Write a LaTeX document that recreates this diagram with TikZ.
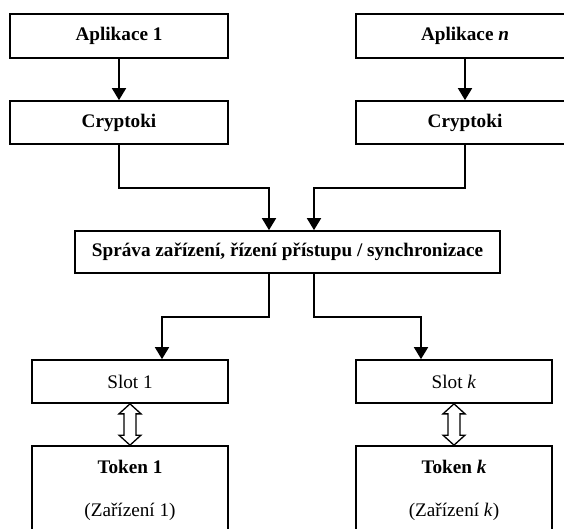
\documentclass[tikz,border=0pt]{standalone}
\usepackage{fontspec}
\setmainfont{Liberation Serif}
\usetikzlibrary{arrows.meta,calc}
\begin{document}
\begin{tikzpicture}[x=1pt,y=-1pt,
  box/.style={draw,line width=1.7pt,rectangle,inner sep=0pt,font=\fontsize{19.2}{22}\selectfont},
  hdr/.style={box,font=\fontsize{19.2}{22}\selectfont\bfseries},
  lbl/.style={inner sep=0pt,font=\fontsize{19.2}{22}\selectfont},
  arr/.style={line width=1.7pt,-{Triangle[length=12pt,width=14pt]}},
  dbl/.style={draw,line width=1.3pt,fill=white,line join=miter}]
\clip (0,0) rectangle (564,529);
\fill[white] (0,0) rectangle (564,529);
\node[hdr,minimum width=218,minimum height=44] (a1) at (119,36) {Aplikace 1};
\node[hdr,minimum width=218,minimum height=43] (c1) at (119,122.5) {Cryptoki};
\node[hdr,minimum width=218,minimum height=44] (an) at (465,36) {Aplikace \textit{n}};
\node[hdr,minimum width=218,minimum height=43] (cn) at (465,122.5) {Cryptoki};
\node[hdr,minimum width=425,minimum height=42] (sm) at (287.5,252) {Správa zařízení, řízení přístupu / synchronizace};
\node[box,minimum width=196,minimum height=43] (s1) at (130,381.5) {Slot 1};
\node[box,minimum width=196,minimum height=43] (sk) at (454,381.5) {Slot \textit{k}};
\node[box,minimum width=196,minimum height=100] (t1) at (130,496) {};
\node[box,minimum width=196,minimum height=100] (tk) at (454,496) {};
\node[lbl,font=\fontsize{19.2}{22}\selectfont\bfseries] (t1a) at ($(t1.north)+(0,22)$) {Token 1};
\node[lbl] (t1b) at ($(t1.north)+(0,67)$) {(Zařízení 1)};
\node[lbl,font=\fontsize{19.2}{22}\selectfont\bfseries] (tka) at ($(tk.north)+(0,22)$) {Token \textit{k}};
\node[lbl] (tkb) at ($(tk.north)+(0,67)$) {(Zařízení \textit{k})};
\coordinate (j1) at (269,188);
\coordinate (jn) at (314,188);
\coordinate (d1) at (269,317);
\coordinate (k1) at (162,317);
\coordinate (dn) at (314,317);
\coordinate (kn) at (421,317);
\draw[arr] (a1) -- (c1);
\draw[arr] (an) -- (cn);
\draw[arr] (c1.south) |- (j1) -- (j1 |- sm.north);
\draw[arr] (cn.south) |- (jn) -- (jn |- sm.north);
\draw[arr] (d1 |- sm.south) -- (d1) -- (k1) -- (k1 |- s1.north);
\draw[arr] (dn |- sm.south) -- (dn) -- (kn) -- (kn |- sk.north);
\foreach \s/\t in {s1/t1,sk/tk}{
  \draw[dbl] (\s.south) -- ++(11,10) -- ++(-5,0) -- ($(\t.north)+(6,-10)$) -- ++(5,0)
    -- (\t.north) -- ++(-11,-10) -- ++(5,0) -- ($(\s.south)+(-6,10)$) -- ++(-5,0) -- cycle;
}
\end{tikzpicture}
\end{document}
